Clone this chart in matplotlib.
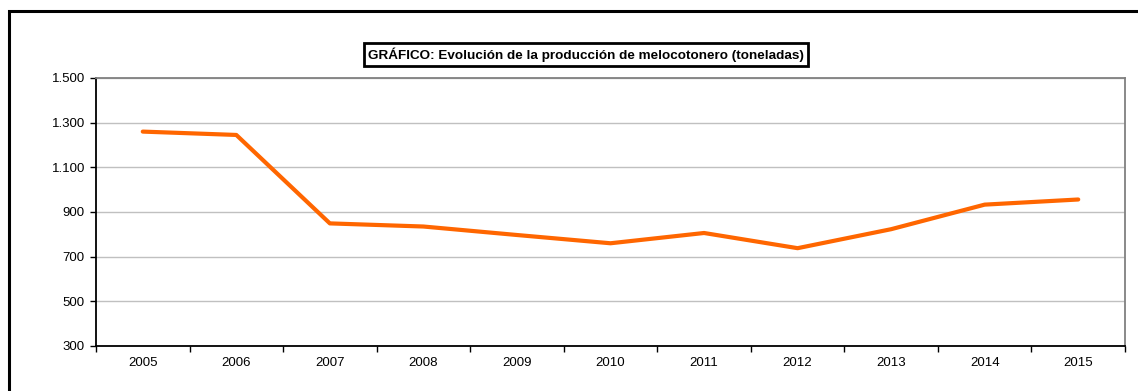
import matplotlib
matplotlib.use('Agg')
import matplotlib.pyplot as plt
from matplotlib.patches import Rectangle

plt.rcParams['font.family'] = ['Liberation Sans', 'DejaVu Sans']

# produccion de melocotonero (toneladas)
years = ['2005', '2006', '2007', '2008', '2009', '2010', '2011', '2012', '2013', '2014', '2015']
produccion = [1260, 1245, 849, 835, 797, 760, 806, 738, 823, 933, 956]
yticks = [300, 500, 700, 900, 1100, 1300, 1500]
ylabels = ['300', '500', '700', '900', '1.100', '1.300', '1.500']
titulo = 'GRÁFICO: Evolución de la producción de melocotonero (toneladas)'

W, H = 1138, 391
fig = plt.figure(figsize=(W / 100, H / 100), dpi=100)
ax = fig.add_axes([96 / W, 1 - 346 / H, (1125 - 96) / W, (346 - 78) / H])

x = list(range(len(years)))
ax.plot(x, produccion, '-', color='#FF6600', lw=3.0, solid_capstyle='round', zorder=3)

ax.set_xlim(-0.5, len(years) - 0.5)
ax.set_ylim(300, 1500)
ax.set_yticks(yticks)
ax.set_yticklabels(ylabels, fontsize=9.5)
ax.yaxis.grid(True, color='#c0c0c0', lw=1)
ax.set_axisbelow(True)

# ticks on category boundaries, labels centred
ax.set_xticks([i - 0.5 for i in range(len(years) + 1)])
ax.set_xticklabels([])
ax.set_xticks(x, minor=True)
ax.set_xticklabels(years, minor=True, fontsize=9.5)
ax.tick_params(axis='x', which='major', direction='out', length=4, width=1, color='black')
ax.tick_params(axis='x', which='minor', length=0, pad=8)
ax.tick_params(axis='y', direction='out', length=4, width=1, pad=4)

ax.spines['left'].set_color('black')
ax.spines['bottom'].set_color('black')
ax.spines['left'].set_linewidth(1.3)
ax.spines['bottom'].set_linewidth(1.3)
ax.spines['top'].set_color('#808080')
ax.spines['right'].set_color('#808080')
ax.spines['top'].set_linewidth(1.3)
ax.spines['right'].set_linewidth(1.3)

fig.text(586 / W, 1 - 54.5 / H, titulo, ha='center', va='center', fontsize=9.7, fontweight='bold',
         bbox=dict(boxstyle='square,pad=0.3', fc='white', ec='black', lw=2))

# marco exterior (cortado a la derecha y abajo)
fig.patches.append(Rectangle((9 / W, -0.1), 1.2, (H - 11) / H + 0.1, transform=fig.transFigure,
                             fill=False, ec='black', lw=2.2))

fig.savefig('out.png', dpi=100)
